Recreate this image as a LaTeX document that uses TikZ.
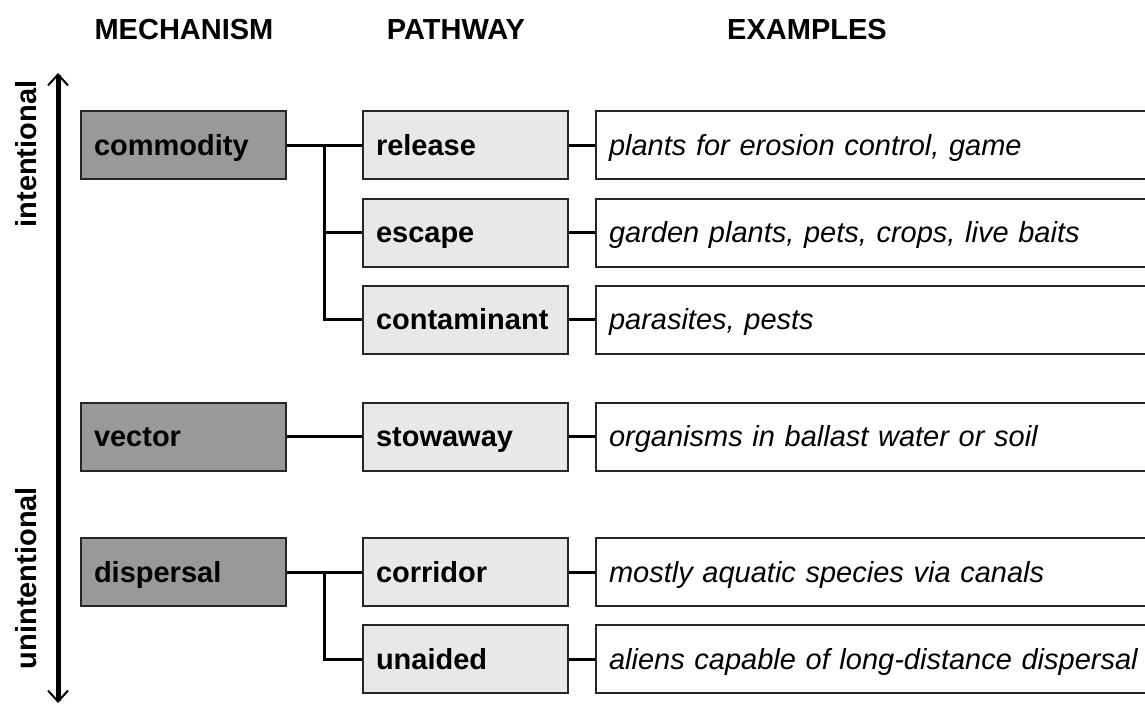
\documentclass[tikz,border=0pt]{standalone}
\usepackage{fontspec}
\setmainfont{Liberation Sans}
\usetikzlibrary{arrows.meta}

\newlength{\du}
\setlength{\du}{1pt}

\definecolor{mechcolor}{rgb}{0.600000, 0.600000, 0.600000}
\definecolor{pathcolor}{rgb}{0.910000, 0.910000, 0.910000}
\definecolor{edgecolor}{rgb}{0.150000, 0.150000, 0.150000}

\tikzset{
  diafont/.style={font=\fontsize{29}{34}\selectfont},
  anybox/.style={diafont, draw=edgecolor, line width=2\du, anchor=west,
    align=left, inner xsep=13\du, inner ysep=0pt, minimum height=68\du,
    text height=20\du, text depth=0pt},
  mechbox/.style={anybox, fill=mechcolor, text width=179\du, font=\fontsize{29}{34}\selectfont\bfseries},
  pathbox/.style={anybox, fill=pathcolor, text width=179\du, font=\fontsize{29}{34}\selectfont\bfseries},
  examplebox/.style={anybox, fill=white, text width=529\du, font=\fontsize{29}{34}\selectfont\itshape},
  headlabel/.style={font=\fontsize{29}{34}\selectfont\bfseries, anchor=base, inner sep=0pt},
  sidelabel/.style={font=\fontsize{29}{34}\selectfont\bfseries, rotate=90, inner sep=0pt},
  link/.style={draw=black, line width=3\du},
  axisarrow/.style={line width=5\du, {Straight Barb[length=11pt,width=20pt,line width=2pt]}-{Straight Barb[length=11pt,width=20pt,line width=2pt]}}
}

\begin{document}
\begin{tikzpicture}
\pgftransformxscale{1.000000}
\pgftransformyscale{-1.000000}
\useasboundingbox (0\du,0\du) rectangle (1145\du,706\du);

% column heads
\node[headlabel] (hmech) at (184\du,40\du){MECHANISM};
\node[headlabel] (hpath) at (456\du,40\du){PATHWAY};
\node[headlabel] (hexam) at (807\du,40\du){EXAMPLES};

% intentional / unintentional axis
\coordinate (axtop) at (58\du,73\du);
\coordinate (axbot) at (58\du,703\du);
\draw[axisarrow] (axbot) -- (axtop);
\node[sidelabel] (intent) at (26\du,154\du){intentional};
\node[sidelabel] (unintent) at (26\du,578\du){unintentional};

% mechanisms
\node[mechbox] (commodity) at (80\du,145.000000\du){commodity};
\node[mechbox] (vector) at (80\du,436.500000\du){vector};
\node[mechbox] (dispersal) at (80\du,572.000000\du){dispersal};

% pathways
\node[pathbox] (release) at (362\du,145.000000\du){release};
\node[pathbox] (escape) at (362\du,232.500000\du){escape};
\node[pathbox] (contaminant) at (362\du,319.500000\du){contaminant};
\node[pathbox] (stowaway) at (362\du,436.500000\du){stowaway};
\node[pathbox] (corridor) at (362\du,572.000000\du){corridor};
\node[pathbox] (unaided) at (362\du,659.000000\du){unaided};

% examples
\node[examplebox] (exrelease) at (595\du,145.000000\du){plants for erosion control, game};
\node[examplebox] (exescape) at (595\du,232.500000\du){garden plants, pets, crops, live baits};
\node[examplebox] (excontaminant) at (595\du,319.500000\du){parasites, pests};
\node[examplebox] (exstowaway) at (595\du,436.500000\du){organisms in ballast water or soil};
\node[examplebox] (excorridor) at (595\du,572.000000\du){mostly aquatic species via canals};
\node[examplebox] (exunaided) at (595\du,659.000000\du){aliens capable of long-distance dispersal};

% mechanism to pathway
\coordinate (jcommodity) at (324\du,145.000000\du);
\coordinate (jdispersal) at (324\du,572.000000\du);
\draw[link] (commodity.east) -- (release.west);
\draw[link] (jcommodity) |- (escape.west);
\draw[link] (jcommodity) |- (contaminant.west);
\draw[link] (vector.east) -- (stowaway.west);
\draw[link] (dispersal.east) -- (corridor.west);
\draw[link] (jdispersal) |- (unaided.west);

% pathway to example
\draw[link] (release.east) -- (exrelease.west);
\draw[link] (escape.east) -- (exescape.west);
\draw[link] (contaminant.east) -- (excontaminant.west);
\draw[link] (stowaway.east) -- (exstowaway.west);
\draw[link] (corridor.east) -- (excorridor.west);
\draw[link] (unaided.east) -- (exunaided.west);
\end{tikzpicture}
\end{document}
